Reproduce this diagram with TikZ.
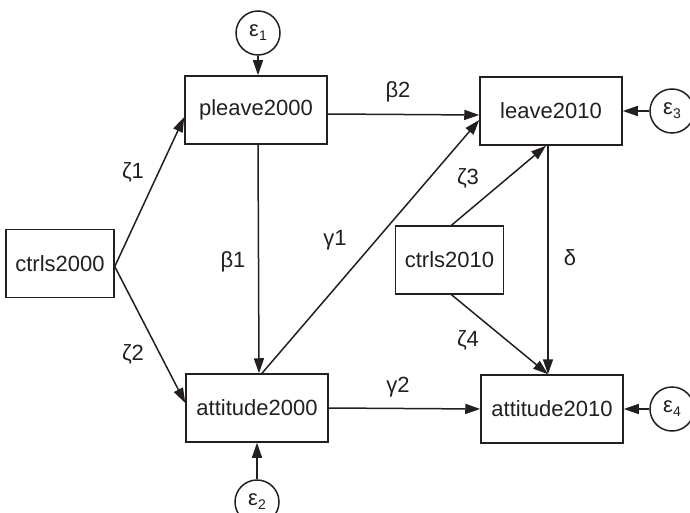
\documentclass[tikz,border=0pt]{standalone}
\usepackage{fontspec}
\setmainfont{Liberation Sans}
\usetikzlibrary{arrows.meta,calc}
\definecolor{ink}{HTML}{231F20}
\begin{document}
\begin{tikzpicture}[x=1pt,y=-1pt,
  font=\fontsize{22}{26}\selectfont, text=ink,
  var/.style={draw=ink, line width=1.5pt, rectangle, inner sep=0pt, minimum width=142pt, minimum height=68pt},
  ctrl/.style={var, minimum width=108pt},
  err/.style={draw=ink, line width=1.5pt, circle, inner sep=0pt, minimum size=44pt},
  path/.style={draw=ink, line width=1.5pt, -{Triangle[length=15pt,width=10pt]}},
  lab/.style={inner sep=1pt}]
\useasboundingbox (0,0) rectangle (690,513);
\newcommand{\eps}[1]{ε\raisebox{-0.35ex}{\fontsize{14}{14}\selectfont #1}}
\node[var] (pleave) at (256,110) {pleave2000};
\node[var] (leave) at (551,111) {leave2010};
\node[ctrl] (c2000) at (60,263.5) {ctrls2000};
\node[ctrl] (c2010) at (449.5,260) {ctrls2010};
\node[var] (att0) at (257,408) {attitude2000};
\node[var] (att1) at (552,409) {attitude2010};
\node[err] (e1) at (258,33) {\eps{1}};
\node[err] (e2) at (257,502) {\eps{2}};
\node[err] (e3) at (672,111) {\eps{3}};
\node[err] (e4) at (672,409) {\eps{4}};
\draw[path] (e1.south) -- (e1.south |- pleave.north);
\draw[path] (e2.north) -- (e2.north |- att0.south);
\draw[path] (e3.west) -- (leave.east);
\draw[path] (e4.west) -- (att1.east);
\draw[path] ([yshift=-3pt]c2000.east) -- ([yshift=-7pt]pleave.west);
\draw[path] ([yshift=-3pt]c2000.east) -- ([yshift=5pt]att0.west);
\draw[path] ([yshift=-4pt]pleave.east) -- ([yshift=-4pt]leave.west);
\draw[path] ([xshift=2pt]pleave.south) -- ([xshift=2pt]att0.north);
\draw[path] ([xshift=5pt]att0.north) -- ([yshift=-9pt]leave.west);
\draw[path] ([xshift=2pt]c2010.north) -- ([xshift=-5pt]leave.south);
\draw[path] ([xshift=-3pt]leave.south) -- ([xshift=-4pt]att1.north);
\draw[path] ([xshift=2pt]c2010.south) -- ([xshift=-4pt]att1.north);
\draw[path] (att0.east) -- (att1.west);
\node[lab] (lb2) at (398,92) {β2};
\node[lab] (lz1) at (133,172) {ζ1};
\node[lab] (lz2) at (133,354) {ζ2};
\node[lab] (lb1) at (233,262) {β1};
\node[lab] (lg1) at (335,240) {γ1};
\node[lab] (lz3) at (468,178) {ζ3};
\node[lab] (ld) at (570,258) {δ};
\node[lab] (lz4) at (468,340) {ζ4};
\node[lab] (lg2) at (398,387) {γ2};
\end{tikzpicture}
\end{document}
